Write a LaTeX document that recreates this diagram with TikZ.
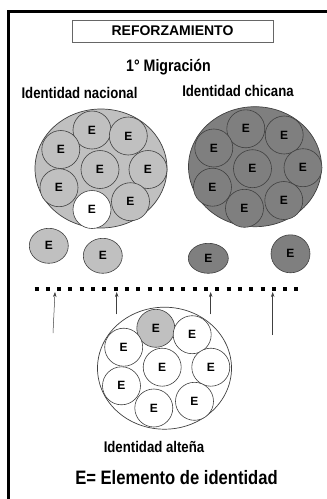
\documentclass[tikz,border=0pt]{standalone}
\usepackage{graphicx}
\usepackage{fontspec}
\setmainfont{Liberation Sans}
\usetikzlibrary{shapes.geometric,arrows.meta}
\definecolor{lgray}{HTML}{C0C0C0}
\definecolor{dgray}{HTML}{7F7F7F}
\definecolor{edge}{HTML}{404040}
\newcommand\ystr[1]{\scalebox{1}[1.17]{#1}}
\begin{document}
\begin{tikzpicture}[x=1pt,y=-1pt,
  elem/.style={circle, draw=edge, line width=0.6pt, minimum size=38pt, inner sep=0pt, font=\fontsize{12}{12}\selectfont\bfseries},
  group/.style={ellipse, draw=edge, line width=0.7pt, inner sep=0pt},
  lbl/.style={font=\fontsize{13.2}{13.2}\selectfont\bfseries, inner sep=0pt},
  arr/.style={-{Stealth[length=5pt,width=3.5pt]}, draw=edge, line width=0.5pt}]
\useasboundingbox (0,0) rectangle (327,499);
% frame
\coordinate (fb) at (8.5,499);
\coordinate (fc) at (8.5,11.5);
\coordinate (fr) at (327,11.5);
\draw[line width=3pt] (fb) -- (fc) -- (fr);
% title
\node[draw=edge!80, line width=0.8pt, minimum width=201pt, minimum height=22pt, inner sep=0pt,
      font=\fontsize{14}{14}\selectfont\bfseries] (title) at (172.5,31) {REFORZAMIENTO};
\node[font=\fontsize{14.2}{14.2}\selectfont\bfseries, inner sep=0pt] (mig) at (168.5,67) {\ystr{1° Migración}};
\node[lbl] (lnac) at (79.5,93) {\ystr{Identidad nacional}};
\node[lbl] (lchi) at (238,91) {\ystr{Identidad chicana}};
\node[lbl] (lalt) at (154,447) {\ystr{Identidad alteña}};
\node[font=\fontsize{16.6}{16.6}\selectfont\bfseries, inner sep=0pt] (leg) at (176.5,478) {\ystr{E= Elemento de identidad}};
% left group
\node[group, fill=lgray, minimum width=132pt, minimum height=119pt] (nac) at (101,168.5) {};
\node[elem, fill=lgray] (n1) at (92,130) {E};
\node[elem, fill=lgray] (n2) at (128.3,136) {E};
\node[elem, fill=lgray] (n3) at (60.8,149.5) {E};
\node[elem, fill=lgray] (n4) at (100,169.5) {E};
\node[elem, fill=lgray] (n5) at (148,169.5) {E};
\node[elem, fill=lgray] (n6) at (59,187.7) {E};
\node[elem, fill=white] (n7) at (92,209.5) {E};
\node[elem, fill=lgray] (n8) at (130.5,201.7) {E};
\node[elem, ellipse, fill=lgray, minimum width=39pt, minimum height=35pt] (n9) at (48.8,245.8) {E};
\node[elem, ellipse, fill=lgray, minimum width=39pt, minimum height=35pt] (n10) at (102.8,255.8) {E};
% right group
\node[group, fill=dgray, minimum width=133pt, minimum height=120pt] (chi) at (255,166.7) {};
\node[elem, fill=dgray] (c1) at (245.8,128.8) {E};
\node[elem, fill=dgray] (c2) at (284.2,135) {E};
\node[elem, fill=dgray] (c3) at (213.8,148) {E};
\node[elem, fill=dgray] (c4) at (252.5,168.7) {E};
\node[elem, fill=dgray] (c5) at (303,167.7) {E};
\node[elem, fill=dgray] (c6) at (212.5,187.2) {E};
\node[elem, fill=dgray] (c7) at (244.5,208.3) {E};
\node[elem, fill=dgray] (c8) at (283.8,200.5) {E};
\node[elem, ellipse, fill=dgray, minimum width=40pt, minimum height=30pt] (c9) at (208.3,258.3) {E};
\node[elem, ellipse, fill=dgray, minimum width=39pt, minimum height=38pt] (c10) at (290.5,253.8) {E};
% dotted barrier
\coordinate (ds) at (34.5,289.3);
\coordinate (de) at (298.5,289.3);
\draw[line width=4pt, dash pattern=on 4pt off 7.3pt] (ds) -- (de);
% arrows
\coordinate (t1) at (55,292);
\coordinate (b1) at (53,333);
\coordinate (t2) at (116.7,292);
\coordinate (b2) at (116.7,314.3);
\coordinate (t3) at (210.7,292);
\coordinate (b3) at (210.7,314.3);
\coordinate (t4) at (272.7,292);
\coordinate (b4) at (272.7,335);
\draw[arr] (b1) -- (t1);
\draw[arr] (b2) -- (t2);
\draw[arr] (b3) -- (t3);
\draw[arr] (b4) -- (t4);
% bottom group
\node[group, fill=white, minimum width=134pt, minimum height=122pt] (alt) at (164.5,368.2) {};
\node[elem, fill=lgray] (a1) at (155.8,328.3) {E};
\node[elem, fill=white] (a2) at (192.2,334.7) {E};
\node[elem, fill=white] (a3) at (123.7,347.2) {E};
\node[elem, fill=white] (a4) at (162.2,367.2) {E};
\node[elem, fill=white] (a5) at (210.8,367.2) {E};
\node[elem, fill=white] (a6) at (121.5,385.8) {E};
\node[elem, fill=white] (a7) at (153.8,408) {E};
\node[elem, fill=white] (a8) at (194.5,401.3) {E};
\end{tikzpicture}
\end{document}
